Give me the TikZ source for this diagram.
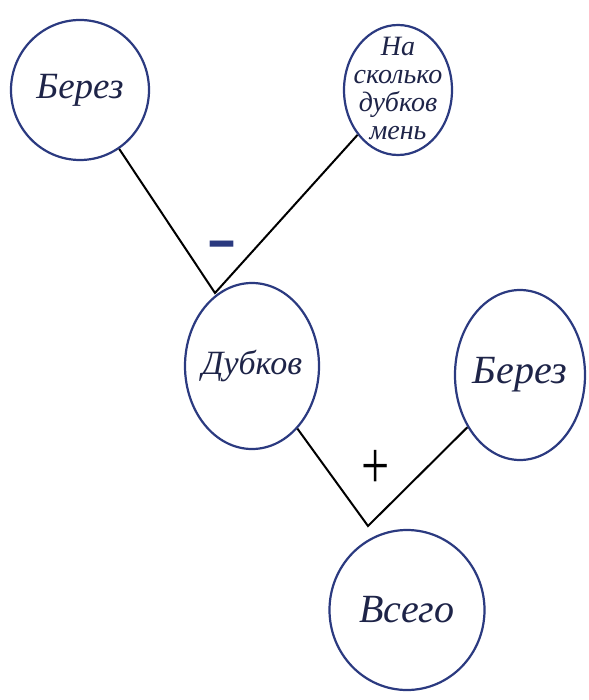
\documentclass[tikz,border=0pt]{standalone}
\usepackage{fontspec}
\setmainfont{Liberation Serif}
\usetikzlibrary{shapes.geometric}
\definecolor{ink}{HTML}{2B3A80}
\definecolor{txt}{HTML}{1E2448}
\tikzset{
  bubble/.style={ellipse, draw=ink, line width=2.2pt, inner sep=0pt},
  word/.style={text=txt, inner sep=0pt},
  link/.style={draw=black, line width=2pt},
  sign/.style={inner sep=0pt}
}
\begin{document}
\begin{tikzpicture}[x=1pt,y=-1pt]
\fill[white] (0,0) rectangle (588,700);
\useasboundingbox (0,0) rectangle (588,700);
\node[bubble, minimum width=138pt, minimum height=140pt] (b1) at (80,90) {};
\node[word, font=\itshape\fontsize{37}{40}\selectfont] (b1t) at (b1) {Берез};
\node[bubble, minimum width=108pt, minimum height=130pt] (nas) at (398,90) {};
\node[word, align=center, font=\itshape\fontsize{28}{28}\selectfont] (nast) at (398,88) {На\\сколько\\дубков\\мень};
\node[bubble, minimum width=134pt, minimum height=166pt] (dub) at (252,366) {};
\node[word, font=\itshape\fontsize{34}{36}\selectfont] (dubt) at (dub) {Дубков};
\node[bubble, minimum width=130pt, minimum height=170pt] (b2) at (520,375) {};
\node[word, font=\itshape\fontsize{40}{42}\selectfont] (b2t) at (b2) {Берез};
\node[bubble, minimum width=155pt, minimum height=160pt] (vse) at (407,610) {};
\node[word, font=\itshape\fontsize{40}{42}\selectfont] (vset) at (vse) {Всего};
\coordinate (a1) at (215,293);
\coordinate (a2) at (368,526);
\draw[link] (b1) -- (a1) -- (nas);
\draw[link] (dub) -- (a2) -- (b2);
\node[sign, text=ink, font=\bfseries\fontsize{46}{50}\selectfont] (minus) at (222,253) {\scalebox{1}[1.9]{–}};
\node[sign, text=black, font=\fontsize{50}{52}\selectfont] (plus) at (376,469) {\scalebox{1}[1.35]{+}};
\end{tikzpicture}
\end{document}
